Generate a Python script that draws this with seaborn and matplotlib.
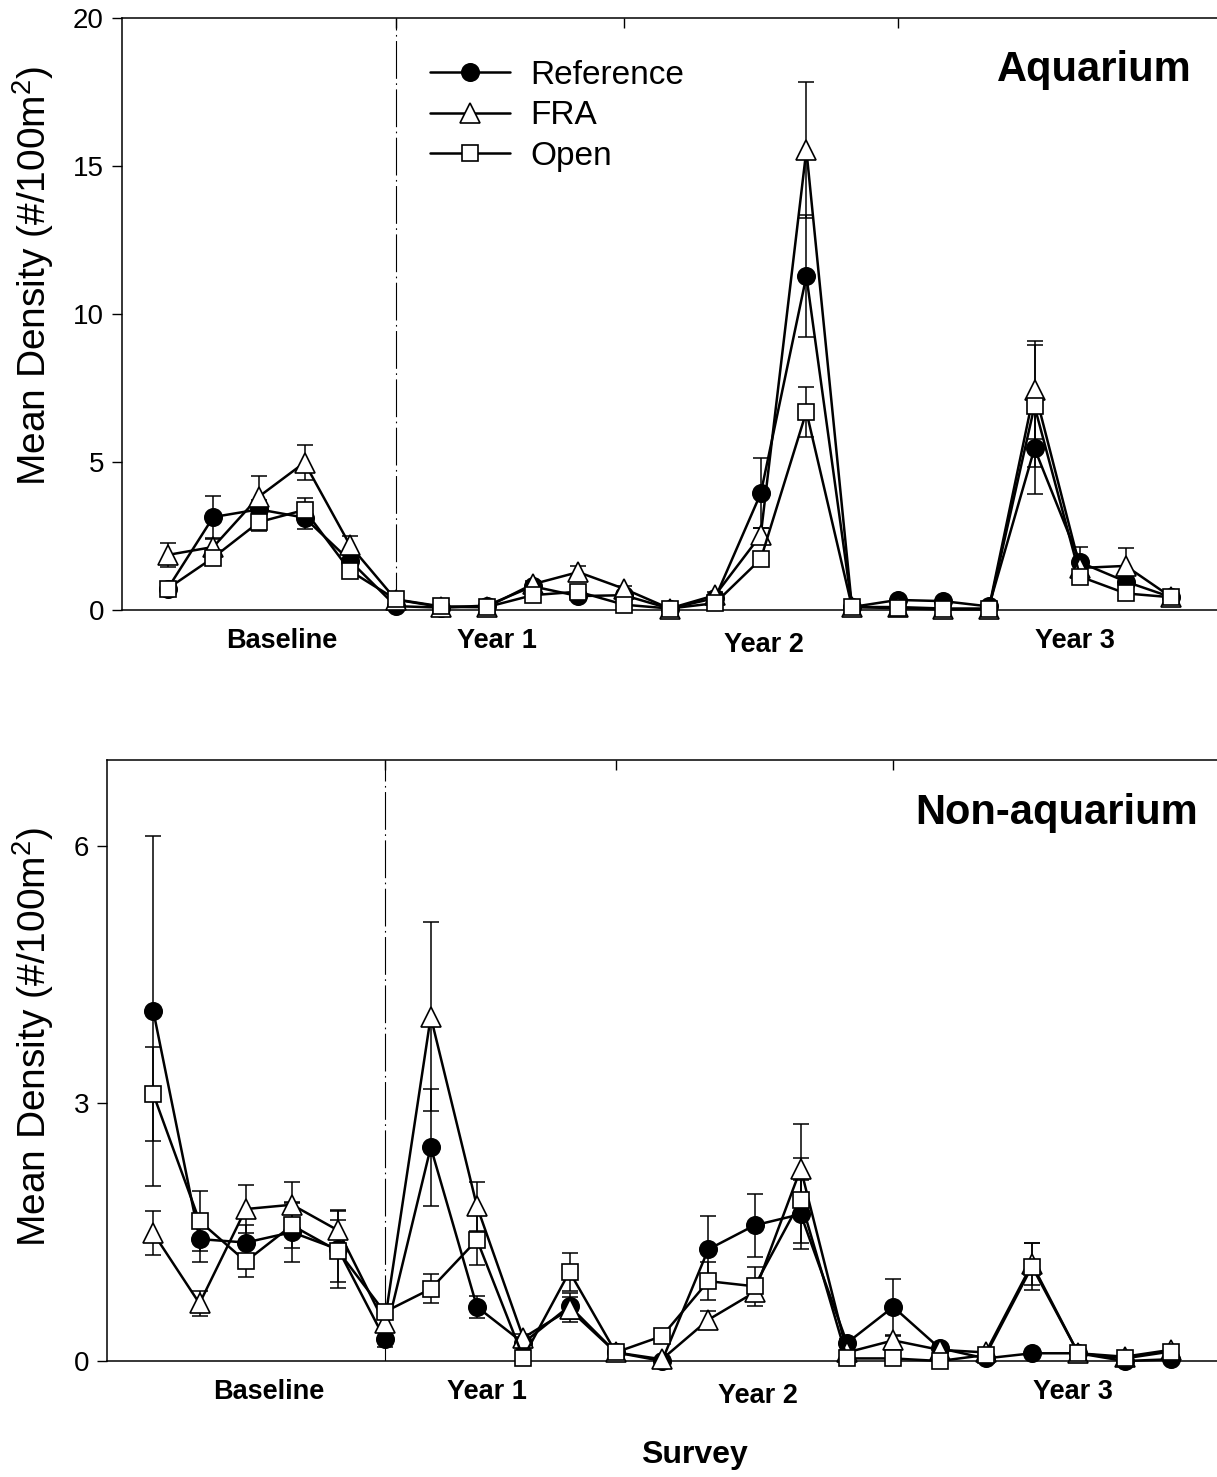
import numpy as np
import pandas as pd
import matplotlib
matplotlib.use("Agg")
import matplotlib.pyplot as plt
import seaborn as sns

# ---------------- data ----------------
surveys = list(range(23))
treatments = ["Reference", "FRA", "Open"]
period_labels = ["Baseline", "Year 1", "Year 2", "Year 3"]
period_pos = [2.5, 7.22, 13.07, 19.88]

# Aquarium panel: means and standard errors
aq_ref = [0.72, 3.14, 3.40, 3.12, 1.66, 0.13, 0.08, 0.15, 0.80, 0.47, 0.50, 0.05,
          0.40, 3.94, 11.28, 0.10, 0.34, 0.30, 0.12, 5.46, 1.61, 0.96, 0.43]
aq_fra = [1.86, 2.13, 3.83, 4.98, 2.18, 0.35, 0.10, 0.10, 0.87, 1.28, 0.72, 0.05,
          0.50, 2.53, 15.54, 0.10, 0.10, 0.05, 0.05, 7.43, 1.42, 1.49, 0.43]
aq_open = [0.72, 1.77, 2.97, 3.38, 1.32, 0.36, 0.12, 0.10, 0.50, 0.62, 0.18, 0.05,
           0.23, 1.72, 6.70, 0.10, 0.06, 0.02, 0.02, 6.89, 1.13, 0.56, 0.43]
aq_ref_se = [0.10, 0.70, 0.30, 0.40, 0.30, 0.05, 0.05, 0.05, 0.10, 0.10, 0.10, 0.05,
             0.10, 1.18, 2.05, 0.05, 0.05, 0.05, 0.05, 1.55, 0.53, 0.15, 0.05]
aq_fra_se = [0.42, 0.26, 0.70, 0.60, 0.32, 0.10, 0.05, 0.05, 0.10, 0.20, 0.10, 0.05,
             0.10, 0.25, 2.30, 0.05, 0.05, 0.05, 0.05, 1.65, 0.10, 0.60, 0.05]
aq_open_se = [0.10, 0.10, 0.30, 0.40, 0.20, 0.10, 0.05, 0.05, 0.10, 0.10, 0.05, 0.05,
              0.05, 0.20, 0.85, 0.05, 0.05, 0.05, 0.05, 2.05, 0.10, 0.10, 0.10]

# Non-aquarium panel
na_ref = [4.08, 1.42, 1.38, 1.50, 1.30, 0.26, 2.49, 0.63, 0.21, 0.64, 0.10, 0.00,
          1.30, 1.58, 1.71, 0.21, 0.63, 0.15, 0.03, 0.09, 0.09, 0.00, 0.02]
na_fra = [1.49, 0.67, 1.77, 1.82, 1.52, 0.44, 4.01, 1.80, 0.27, 0.60, 0.10, 0.02,
          0.48, 0.80, 2.24, 0.10, 0.24, 0.13, 0.10, 1.13, 0.09, 0.05, 0.13]
na_open = [3.11, 1.63, 1.16, 1.58, 1.28, 0.57, 0.84, 1.41, 0.04, 1.04, 0.10, 0.29,
           0.93, 0.87, 1.87, 0.03, 0.03, 0.00, 0.07, 1.10, 0.09, 0.03, 0.11]
na_ref_se = [2.04, 0.27, 0.20, 0.35, 0.45, 0.10, 0.68, 0.13, 0.05, 0.15, 0.02, 0.02,
             0.39, 0.37, 0.40, 0.05, 0.33, 0.05, 0.02, 0.02, 0.02, 0.02, 0.02]
na_fra_se = [0.26, 0.15, 0.28, 0.27, 0.24, 0.10, 1.10, 0.29, 0.05, 0.15, 0.02, 0.02,
             0.10, 0.10, 0.52, 0.03, 0.05, 0.03, 0.03, 0.25, 0.02, 0.02, 0.02]
na_open_se = [0.55, 0.35, 0.18, 0.26, 0.36, 0.05, 0.17, 0.29, 0.03, 0.22, 0.02, 0.05,
              0.22, 0.23, 0.50, 0.02, 0.02, 0.02, 0.02, 0.27, 0.02, 0.02, 0.02]

panels = [
    dict(title="Aquarium", means=[aq_ref, aq_fra, aq_open], ses=[aq_ref_se, aq_fra_se, aq_open_se],
         ylim=(0, 20), yticks=[0, 5, 10, 15, 20]),
    dict(title="Non-aquarium", means=[na_ref, na_fra, na_open], ses=[na_ref_se, na_fra_se, na_open_se],
         ylim=(0, 7), yticks=[0, 3, 6]),
]

# ---------------- style ----------------
sns.set_style("ticks")
plt.rcParams["font.family"] = ["Liberation Sans", "DejaVu Sans"]
plt.rcParams["mathtext.fontset"] = "custom"
plt.rcParams["mathtext.rm"] = "Liberation Sans"
plt.rcParams["mathtext.it"] = "Liberation Sans:italic"
for key in ["text.color", "axes.labelcolor", "xtick.color", "ytick.color", "axes.edgecolor"]:
    plt.rcParams[key] = "black"

marker_styles = {
    "Reference": dict(marker="o", markersize=12.5, markerfacecolor="black"),
    "FRA": dict(marker="^", markersize=14, markerfacecolor="white"),
    "Open": dict(marker="s", markersize=11, markerfacecolor="white"),
}

W, H = 1217, 1477
fig = plt.figure(figsize=(W / 100, H / 100), dpi=100)
ax_top = fig.add_axes([122 / W, 1 - 610 / H, 1095 / W, 592 / H])
ax_bot = fig.add_axes([107 / W, 1 - 1361 / H, 1110 / W, 601 / H])
axes = [ax_top, ax_bot]

for i, (ax, p) in enumerate(zip(axes, panels)):
    rows = []
    for t, m, s in zip(treatments, p["means"], p["ses"]):
        for x, mv, sv in zip(surveys, m, s):
            rows.append(dict(survey=x, treatment=t, mean=mv, se=sv))
    df = pd.DataFrame(rows)

    # error bars first (beneath markers)
    for t in treatments:
        d = df[df.treatment == t]
        ax.errorbar(d["survey"], d["mean"], yerr=d["se"], fmt="none", ecolor="black",
                    elinewidth=1.1, capsize=5.8, capthick=1.1, zorder=2)

    for k, t in enumerate(treatments):
        d = df[df.treatment == t]
        sns.lineplot(data=d, x="survey", y="mean", ax=ax, color="black", lw=1.8,
                     markeredgecolor="black", markeredgewidth=1.2, errorbar=None,
                     sort=False, label=t if i == 0 else None, legend=(i == 0),
                     clip_on=False, zorder=3 + k, **marker_styles[t])

    # baseline separator
    ax.axvline(5, color="black", lw=0.8, linestyle=(0, (34, 4, 1.5, 4)), zorder=1)

    ax.set_xlim(-1, 23)
    ax.set_ylim(*p["ylim"])
    ax.set_yticks(p["yticks"])
    ax.set_yticklabels([str(v) for v in p["yticks"]])
    ax.set_xticks([5, 10, 16])
    ax.set_xticklabels([])
    ax.tick_params(axis="x", bottom=False, top=True, direction="in", length=7.5, width=1,
                   color="black")
    ax.tick_params(axis="y", left=True, direction="out", length=7, width=1, labelsize=20,
                   pad=6, color="black", labelcolor="black")
    ax.set_xlabel("")
    ax.set_ylabel("Mean Density (#/100m$^2$)", fontsize=28, color="black")
    ax.yaxis.set_label_coords(-0.06 if i == 0 else -0.046, 0.565 if i == 0 else 0.54)
    for sp in ["left", "bottom", "top"]:
        ax.spines[sp].set_linewidth(1.1)
        ax.spines[sp].set_color("black")
    ax.spines["right"].set_visible(False)

    ax.text(0.977 if i == 0 else 0.983, 0.912, p["title"], transform=ax.transAxes,
            ha="right", va="center", fontsize=30, fontweight="bold", color="black")

    trans = ax.get_xaxis_transform()
    for lab, xp in zip(period_labels, period_pos):
        yoff = -0.059 if lab == "Year 2" else -0.052
        ax.text(xp, yoff, lab, transform=trans, ha="center", va="center",
                fontsize=19.5, fontweight="bold", color="black")

leg = ax_top.legend(loc="upper left", bbox_to_anchor=(0.2813, 0.929), frameon=False,
                    fontsize=24, handlelength=2.4, handletextpad=0.6, labelspacing=0.28,
                    borderpad=0, borderaxespad=0)
for txt in leg.get_texts():
    txt.set_color("black")

fig.text(694 / W, 1 - 1455 / H, "Survey", ha="center", va="center",
         fontsize=23, fontweight="bold", color="black")

fig.savefig("out.png", dpi=100)
